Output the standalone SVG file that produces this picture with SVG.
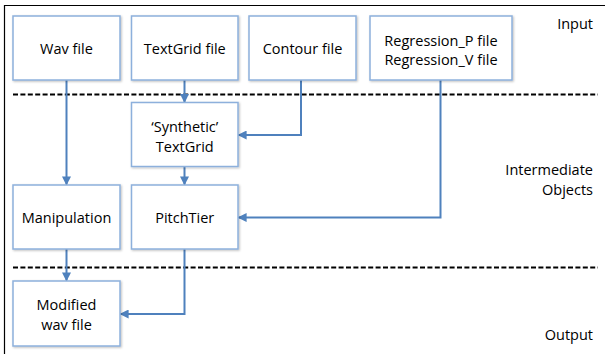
<svg xmlns="http://www.w3.org/2000/svg" width="605" height="354" viewBox="0 0 605 354">
  <defs>
    <marker id="arrow" viewBox="0 0 10 10" refX="9" refY="5" markerWidth="4.5" markerHeight="4.5" orient="auto" markerUnits="strokeWidth">
      <path d="M0,0 L10,5 L0,10 z" fill="#4f81bd"/>
    </marker>
    <filter id="shadow" x="-10%" y="-10%" width="120%" height="120%">
      <feDropShadow dx="1" dy="1" stdDeviation="0.8" flood-color="#000" flood-opacity="0.25"/>
    </filter>
  </defs>
  <style>
    .box { fill: #ffffff; stroke: #8db0dc; stroke-width: 1.5; filter: url(#shadow); }
    .label { font-family: "Open Sans", "Liberation Sans", sans-serif; font-size: 14.5px; fill: #000000; text-anchor: middle; }
    .side { font-family: "Open Sans", "Liberation Sans", sans-serif; font-size: 14.5px; fill: #000000; text-anchor: end; }
    .conn { fill: none; stroke: #4f81bd; stroke-width: 2; marker-end: url(#arrow); }
    .divider { stroke: #000; stroke-width: 2; stroke-dasharray: 5 2.4; }
  </style>
  <rect width="605" height="354" fill="#ffffff"/>
  <!-- frame -->
  <path d="M4.5,354 L4.5,5.5 L605,5.5" fill="none" stroke="#000" stroke-width="1.2"/>

  <!-- stage dividers -->
  <g id="dividers">
    <line class="divider" x1="13" y1="94.5" x2="598" y2="94.5"/>
    <line class="divider" x1="13" y1="267.5" x2="598" y2="267.5"/>
  </g>

  <!-- stage labels -->
  <g id="stages">
    <text class="side" x="593" y="29">Input</text>
    <text class="side" x="593" y="175">Intermediate</text>
    <text class="side" x="593" y="195">Objects</text>
    <text class="side" x="593" y="340">Output</text>
  </g>

  <g id="connectors">
    <path class="conn" d="M66.5,80 L66.5,184.5"/>
    <path class="conn" d="M184.5,80 L184.5,102"/>
    <path class="conn" d="M301,80 L301,135 L238.5,135"/>
    <path class="conn" d="M184.5,166.5 L184.5,184.5"/>
    <path class="conn" d="M440.5,80 L440.5,217.5 L238.5,217.5"/>
    <path class="conn" d="M66.5,249 L66.5,280.5"/>
    <path class="conn" d="M184.5,249 L184.5,314 L120.5,314"/>
  </g>

  <g id="wav-file">
    <rect class="box" x="13" y="16" width="107" height="64"/>
    <text class="label" x="66.5" y="54">Wav file</text>
  </g>
  <g id="textgrid-file">
    <rect class="box" x="131.5" y="16" width="106.5" height="64"/>
    <text class="label" x="184.75" y="54">TextGrid file</text>
  </g>
  <g id="contour-file">
    <rect class="box" x="249" y="16" width="107" height="64"/>
    <text class="label" x="302.5" y="54">Contour file</text>
  </g>
  <g id="regression-file">
    <rect class="box" x="370" y="16" width="142" height="64"/>
    <text class="label" x="441" y="46">Regression_P file</text>
    <text class="label" x="441" y="65">Regression_V file</text>
  </g>
  <g id="synthetic-textgrid">
    <rect class="box" x="131.5" y="102.5" width="106.5" height="64"/>
    <text class="label" x="184.75" y="132">‘Synthetic’</text>
    <text class="label" x="184.75" y="152">TextGrid</text>
  </g>
  <g id="manipulation">
    <rect class="box" x="13" y="185" width="107" height="64"/>
    <text class="label" x="66.5" y="223">Manipulation</text>
  </g>
  <g id="pitchtier">
    <rect class="box" x="131.5" y="185" width="106.5" height="64"/>
    <text class="label" x="184.75" y="223">PitchTier</text>
  </g>
  <g id="modified-wav-file">
    <rect class="box" x="13" y="281" width="107" height="65"/>
    <text class="label" x="66.5" y="310">Modified</text>
    <text class="label" x="66.5" y="330">wav file</text>
  </g>
</svg>
